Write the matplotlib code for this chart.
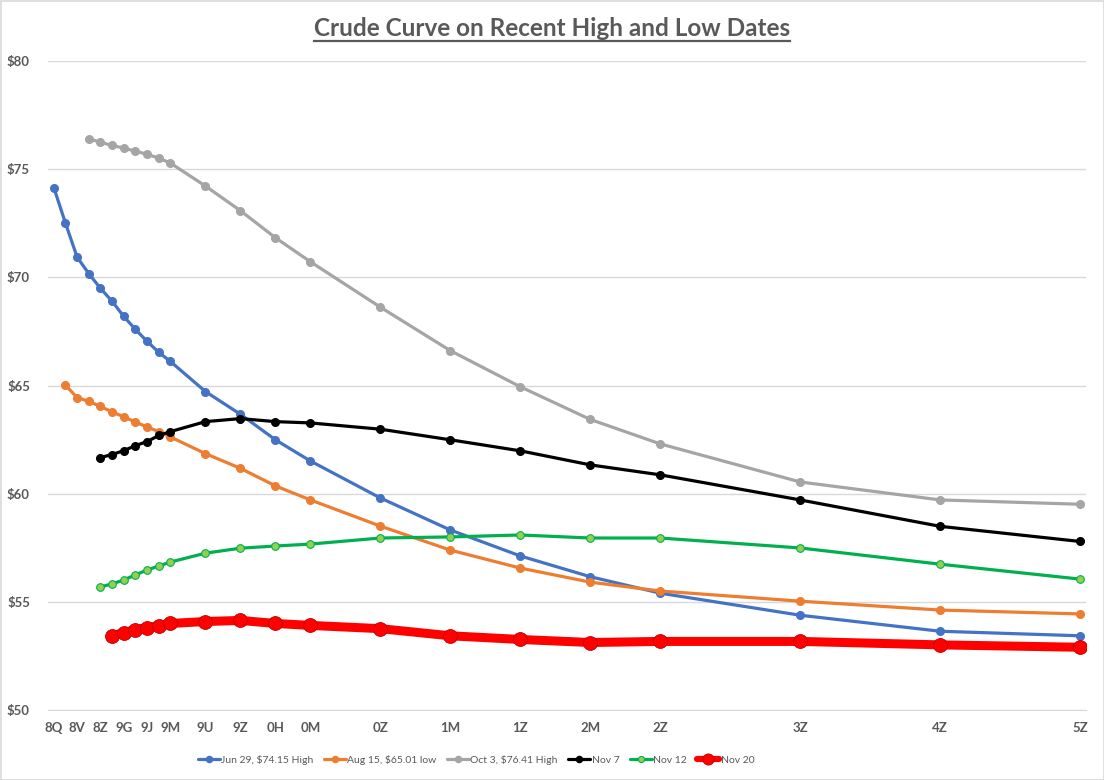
import matplotlib
matplotlib.use("Agg")
import matplotlib.pyplot as plt
from matplotlib.lines import Line2D
from matplotlib.patches import Rectangle

plt.rcParams['font.family'] = ['Lato', 'DejaVu Sans']

# Contract months counted from Aug 2018 (8Q)
contract_codes = ["8Q", "8U", "8V", "8X", "8Z", "9F", "9G", "9H", "9J", "9K", "9M",
                  "9U", "9Z", "0H", "0M", "0Z", "1M", "1Z", "2M", "2Z", "3Z", "4Z", "5Z"]
contract_months = [0, 1, 2, 3, 4, 5, 6, 7, 8, 9, 10,
                   13, 16, 19, 22, 28, 34, 40, 46, 52, 64, 76, 88]

tick_labels = ["8Q", "8V", "8Z", "9G", "9J", "9M", "9U", "9Z", "0H", "0M",
               "0Z", "1M", "1Z", "2M", "2Z", "3Z", "4Z", "5Z"]

jun29 = [74.15, 72.50, 70.93, 70.17, 69.49, 68.89, 68.19, 67.59, 67.04, 66.53, 66.11,
         64.72, 63.67, 62.49, 61.51, 59.80, 58.32, 57.12, 56.16, 55.40, 54.38, 53.64, 53.43]
aug15 = [65.01, 64.44, 64.27, 64.03, 63.78, 63.55, 63.31, 63.08, 62.87, 62.62,
         61.85, 61.17, 60.36, 59.71, 58.50, 57.39, 56.56, 55.91, 55.50, 55.03, 54.62, 54.44]
oct3 = [76.41, 76.24, 76.10, 75.97, 75.83, 75.69, 75.51, 75.28,
        74.22, 73.08, 71.83, 70.72, 68.62, 66.61, 64.94, 63.43, 62.30, 60.54, 59.71, 59.51]
nov7 = [61.67, 61.81, 61.99, 62.22, 62.41, 62.69, 62.87,
        63.33, 63.47, 63.33, 63.27, 62.98, 62.49, 61.98, 61.33, 60.87, 59.71, 58.49, 57.79]
nov12 = [55.69, 55.83, 56.01, 56.25, 56.47, 56.66, 56.84,
         57.25, 57.48, 57.58, 57.67, 57.95, 58.00, 58.09, 57.95, 57.95, 57.49, 56.74, 56.05]
nov20 = [53.43, 53.58, 53.72, 53.81, 53.89, 54.00,
         54.09, 54.14, 54.00, 53.91, 53.76, 53.43, 53.26, 53.12, 53.17, 53.17, 53.01, 52.90]

series_names = ["Jun 29, $74.15 High", "Aug 15, $65.01 low", "Oct 3, $76.41 High",
                "Nov 7", "Nov 12", "Nov 20"]

month_of = dict(zip(contract_codes, contract_months))

fig = plt.figure(figsize=(11.04, 7.80), dpi=100)
ax = fig.add_axes([48/1104, 1-710/780, (1086-48)/1104, (710-61)/780])

text_col = "#595959"

styles = [
    dict(color="#4472C4", lw=2.3, marker="o", ms=5.5, mfc="#4472C4", mec="#4472C4"),
    dict(color="#ED7D31", lw=2.3, marker="o", ms=5.5, mfc="#ED7D31", mec="#ED7D31"),
    dict(color="#A5A5A5", lw=2.3, marker="o", ms=5.5, mfc="#A5A5A5", mec="#A5A5A5"),
    dict(color="#000000", lw=2.3, marker="o", ms=5.5, mfc="#000000", mec="#000000"),
    dict(color="#00B050", lw=2.3, marker="o", ms=5.5, mfc="#92D050", mec="#00B050", mew=0.8),
    dict(color="#FF0000", lw=6.5, marker="o", ms=10, mfc="#FF0000", mec="#C00000", mew=0.6),
]
all_series = [jun29, aug15, oct3, nov7, nov12, nov20]

for name, vals, st in zip(series_names, all_series, styles):
    xs = contract_months[len(contract_months) - len(vals):]
    ax.plot(xs, vals, label=name, solid_capstyle="round", zorder=3, **st)

ax.set_xlim(-0.5, 88.5)
ax.set_ylim(50, 80)
ax.set_yticks([50, 55, 60, 65, 70, 75, 80])
ax.set_yticklabels(["$50", "$55", "$60", "$65", "$70", "$75", "$80"])
ax.set_xticks([month_of[c] for c in tick_labels])
ax.set_xticklabels(tick_labels)

ax.grid(axis="y", color="#D9D9D9", lw=1)
ax.set_axisbelow(True)
for s in ["top", "right", "left"]:
    ax.spines[s].set_visible(False)
ax.spines["bottom"].set_color("#D9D9D9")
ax.tick_params(axis="both", length=0, colors=text_col, labelsize=9.5)
ax.tick_params(axis="y", pad=13)
ax.tick_params(axis="x", pad=9)
for lbl in ax.get_xticklabels() + ax.get_yticklabels():
    lbl.set_fontweight("bold")

# Title with underline
title = fig.text(552/1104, 1-28/780, "Crude Curve on Recent High and Low Dates",
                 ha="center", va="center", fontsize=17.5, fontweight="bold", color=text_col)
fig.canvas.draw()
bb = title.get_window_extent(fig.canvas.get_renderer())
uy = (bb.y0 - 1) / fig.bbox.height
fig.add_artist(Line2D([bb.x0 / fig.bbox.width, bb.x1 / fig.bbox.width], [uy, uy],
                      transform=fig.transFigure, color=text_col, lw=1.6))

leg = fig.legend(loc="center", bbox_to_anchor=(476/1104, 1-760/780), ncol=6,
                 frameon=False, fontsize=7.5, handlelength=2.1, columnspacing=1.0,
                 handletextpad=0.15, labelcolor=text_col, markerscale=0.8)
for h in leg.legend_handles:
    if h.get_linewidth() > 5:
        h.set_linewidth(4.5)

fig.add_artist(Rectangle((0.5/1104, 0.5/780), 1-1/1104, 1-1/780, transform=fig.transFigure,
                         fill=False, edgecolor="#D9D9D9", lw=1.2))

fig.savefig("out.png", dpi=100, facecolor="white")
